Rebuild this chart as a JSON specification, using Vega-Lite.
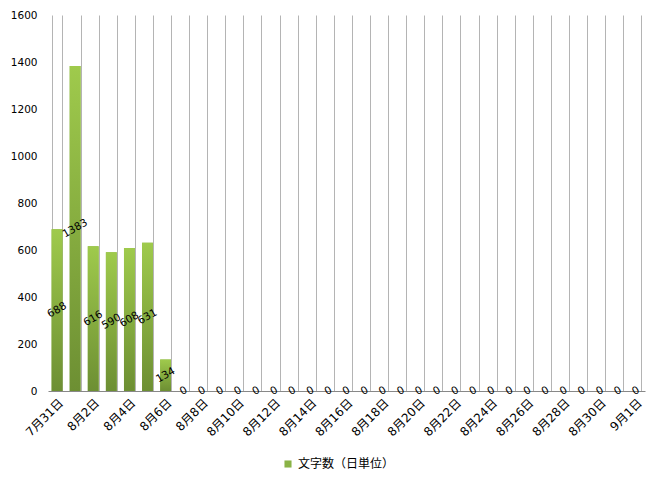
{
  "$schema": "https://vega.github.io/schema/vega-lite/v6.json",
  "width": 597,
  "height": 376,
  "autosize": "none",
  "padding": {"left": 48, "top": 15, "right": 18, "bottom": 96},
  "background": "white",
  "data": {
    "values": [
      {"date": "7月31日", "chars": 688},
      {"date": "8月1日", "chars": 1383},
      {"date": "8月2日", "chars": 616},
      {"date": "8月3日", "chars": 590},
      {"date": "8月4日", "chars": 608},
      {"date": "8月5日", "chars": 631},
      {"date": "8月6日", "chars": 134},
      {"date": "8月7日", "chars": 0},
      {"date": "8月8日", "chars": 0},
      {"date": "8月9日", "chars": 0},
      {"date": "8月10日", "chars": 0},
      {"date": "8月11日", "chars": 0},
      {"date": "8月12日", "chars": 0},
      {"date": "8月13日", "chars": 0},
      {"date": "8月14日", "chars": 0},
      {"date": "8月15日", "chars": 0},
      {"date": "8月16日", "chars": 0},
      {"date": "8月17日", "chars": 0},
      {"date": "8月18日", "chars": 0},
      {"date": "8月19日", "chars": 0},
      {"date": "8月20日", "chars": 0},
      {"date": "8月21日", "chars": 0},
      {"date": "8月22日", "chars": 0},
      {"date": "8月23日", "chars": 0},
      {"date": "8月24日", "chars": 0},
      {"date": "8月25日", "chars": 0},
      {"date": "8月26日", "chars": 0},
      {"date": "8月27日", "chars": 0},
      {"date": "8月28日", "chars": 0},
      {"date": "8月29日", "chars": 0},
      {"date": "8月30日", "chars": 0},
      {"date": "8月31日", "chars": 0},
      {"date": "9月1日", "chars": 0}
    ]
  },
  "encoding": {
    "x": {
      "field": "date",
      "type": "nominal",
      "sort": null,
      "title": null,
      "scale": {"paddingInner": 0.4, "paddingOuter": 0.2},
      "axis": {
        "tickBand": "extent",
        "grid": true,
        "gridColor": "#b4b4b4",
        "ticks": false,
        "domainColor": "#888888",
        "labelAngle": -45,
        "labelPadding": 6,
        "labelFontSize": 12,
        "labelExpr": "test(/^(7月31|8月[0-9]*[02468]|9月1)日$/, datum.label) ? datum.label : ''"
      }
    }
  },
  "layer": [
    {
      "mark": {"type": "bar"},
      "encoding": {
        "y": {
          "field": "chars",
          "type": "quantitative",
          "title": null,
          "scale": {"domain": [0, 1600]},
          "axis": {
            "values": [0, 200, 400, 600, 800, 1000, 1200, 1400, 1600],
            "format": "d",
            "grid": false,
            "ticks": false,
            "domain": false,
            "labelPadding": 11,
            "labelFontSize": 10.5
          }
        },
        "color": {
          "datum": "文字数（日単位）",
          "scale": {"range": ["#8ab346"]},
          "legend": {
            "title": null,
            "orient": "none",
            "direction": "horizontal",
            "legendX": 234,
            "legendY": 443,
            "symbolType": "square",
            "symbolSize": 50,
            "labelFontSize": 12
          }
        }
      }
    },
    {
      "mark": {
        "type": "bar",
        "color": {
          "gradient": "linear",
          "x1": 0, "y1": 0, "x2": 0, "y2": 1,
          "stops": [
            {"offset": 0, "color": "#9fca4c"},
            {"offset": 1, "color": "#6d8f33"}
          ]
        }
      },
      "encoding": {
        "y": {"field": "chars", "type": "quantitative"}
      }
    },
    {
      "transform": [{"calculate": "datum.chars / 2", "as": "mid"}],
      "mark": {"type": "text", "angle": -30, "fontSize": 10.5, "color": "black"},
      "encoding": {
        "y": {"field": "mid", "type": "quantitative"},
        "text": {"field": "chars", "type": "quantitative"}
      }
    }
  ],
  "config": {
    "font": "DejaVu Sans, Noto Sans CJK JP",
    "view": {"stroke": null},
    "axis": {"labelColor": "black", "labelFont": "DejaVu Sans, Noto Sans CJK JP"},
    "legend": {"labelColor": "black", "labelFont": "DejaVu Sans, Noto Sans CJK JP"}
  }
}
